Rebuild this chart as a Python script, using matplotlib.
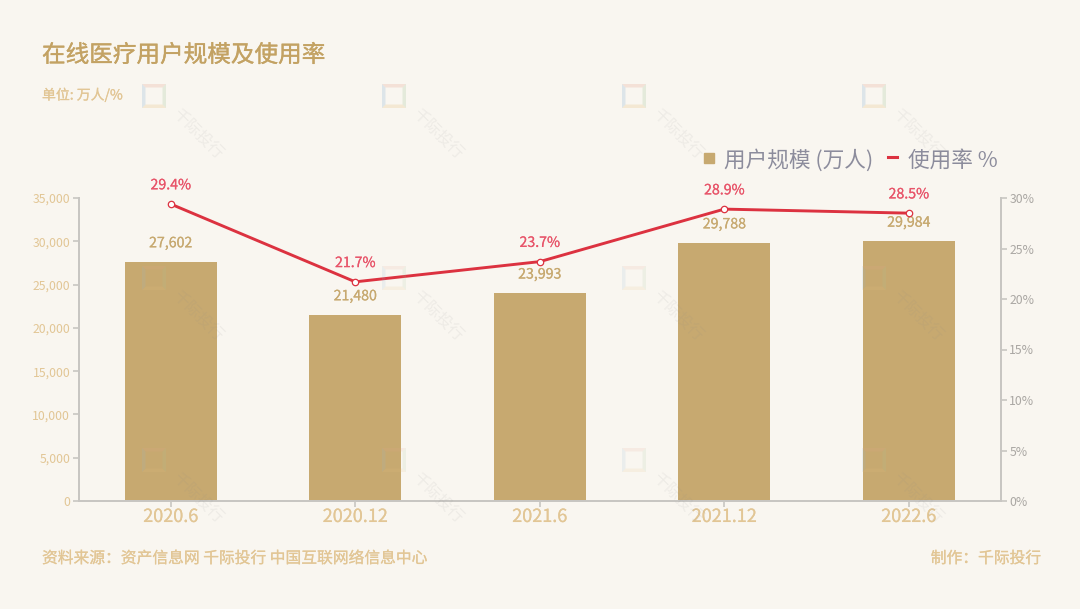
import matplotlib
matplotlib.use("Agg")
import matplotlib.pyplot as plt
import matplotlib.patheffects as pe
from matplotlib.patches import Polygon, Rectangle
from matplotlib.lines import Line2D

categories = ["2020.6", "2020.12", "2021.6", "2021.12", "2022.6"]
users = [27602, 21480, 23993, 29788, 29984]
rate = [29.4, 21.7, 23.7, 28.9, 28.5]
left_ticks = [0, 5000, 10000, 15000, 20000, 25000, 30000, 35000]
right_ticks = [0, 5, 10, 15, 20, 25, 30]

plt.rcParams['font.family'] = ['Noto Sans CJK SC', 'DejaVu Sans']
BG = "#f9f6f0"; BAR = "#c7a970"; LIGHT = "#e2c695"; TITLE = "#c3a263"
RED = "#dc3240"; REDT = "#e8556a"; GREY = "#c8c6c2"; RT = "#aaa7a3"; LEG = "#8c8c9c"
W, H = 1080, 609
fig = plt.figure(figsize=(W / 100, H / 100), dpi=100, facecolor=BG)
ax = fig.add_axes([78.5 / W, 1 - 501 / H, (1001 - 78.5) / W, 303 / H], facecolor="none")
ax2 = ax.twinx()
ax2.set_facecolor("none")


def thick(color, w=0.12):
    return [pe.withStroke(linewidth=w, foreground=color)]


x = list(range(len(categories)))
ax.bar(x, users, width=0.5, color=BAR, zorder=2)
ax.set_xlim(-0.5, 4.5); ax.set_ylim(0, 35000)
ax2.set_ylim(0, 30)
ax.set_xticks(x, categories)
ax.set_yticks(left_ticks, [f"{v:,}" for v in left_ticks])
ax2.set_yticks(right_ticks, [f"{v}%" for v in right_ticks])
ax.tick_params(axis='x', colors=GREY, labelcolor=LIGHT, labelsize=13, length=4, width=1.2, pad=1)
ax.tick_params(axis='y', colors=GREY, labelcolor=LIGHT, labelsize=8.8, length=4, width=1.2, pad=2)
ax2.tick_params(axis='y', colors=GREY, labelcolor=RT, labelsize=8.8, length=4, width=1.2, pad=2)
for lab in ax.get_xticklabels():
    lab.set_path_effects(thick(LIGHT))
for a in (ax, ax2):
    a.spines['top'].set_visible(False)
    for s in ('left', 'right', 'bottom'):
        a.spines[s].set_color(GREY); a.spines[s].set_linewidth(1.4)
ax2.plot(x, rate, color=RED, lw=2.1, marker='o', ms=4.6, mfc='white', mec=RED, mew=0.9, zorder=5, clip_on=False)

for i, v in enumerate(users):
    ax.annotate(f"{v:,}", (i, v), xytext=(0, 13.5), textcoords='offset points', ha='center', va='center',
                fontsize=10.2, color=BAR, zorder=6, path_effects=thick(BAR))
for i, v in enumerate(rate):
    ax2.annotate(f"{v}%", (i, v), xytext=(0, 13.5), textcoords='offset points', ha='center', va='center',
                 fontsize=10.2, color=REDT, zorder=6, annotation_clip=False, path_effects=thick(REDT))


def T(px, py, s, **k):
    return fig.text(px / W, 1 - py / H, s, **k)


T(42, 55.5, "在线医疗用户规模及使用率", fontsize=17, color=TITLE, va='center', path_effects=thick(TITLE, 0.25))
T(42, 95, "单位: 万人/%", fontsize=10, color=LIGHT, va='center', path_effects=thick(LIGHT, 0.15))
T(42, 558.5, "资料来源：资产信息网 千际投行 中国互联网络信息中心", fontsize=11.35, color=LIGHT, va='center',
  path_effects=thick(LIGHT, 0.15))
T(1041, 558.5, "制作：千际投行", fontsize=11.35, color=LIGHT, va='center', ha='right', path_effects=thick(LIGHT, 0.15))

# legend
fig.add_artist(Rectangle((704 / W, 1 - 163 / H), 10 / W, 10 / H, transform=fig.transFigure, color=BAR))
T(724, 160.5, "用户规模 (万人)", fontsize=15.6, color=LEG, va='center')
fig.add_artist(Line2D([888 / W, 897 / W], [1 - 157 / H] * 2, transform=fig.transFigure, color=RED, lw=2.2))
T(908, 160.5, "使用率 %", fontsize=15.6, color=LEG, va='center')

# watermark
for cx in (154, 394, 634, 874):
    for cy in (96, 278, 460):
        s = 12
        b = 3.5
        o = [(-s, -s), (s, -s), (s, s), (-s, s)]
        n = [(-s + b, -s + b), (s - b, -s + b), (s - b, s - b), (-s + b, s - b)]
        cols = ["#e8a890", "#a8c8a0", "#e8c080", "#90b8d8"]
        for j in range(4):
            j2 = (j + 1) % 4
            pts = [o[j], o[j2], n[j2], n[j]]
            fig.add_artist(Polygon([((cx + a) / W, 1 - (cy + c) / H) for a, c in pts], closed=True,
                                   transform=fig.transFigure, fc=cols[j], ec='none',
                                   alpha=0.26 if cy == 96 else 0.14, zorder=10))
        T(cx + 43, cy + 39, "千际投行", fontsize=11.5, color="#8a8a8a", alpha=0.10, rotation=-45,
          ha='center', va='center', rotation_mode='anchor', zorder=10)

fig.savefig("out.png", dpi=100, facecolor=BG)
